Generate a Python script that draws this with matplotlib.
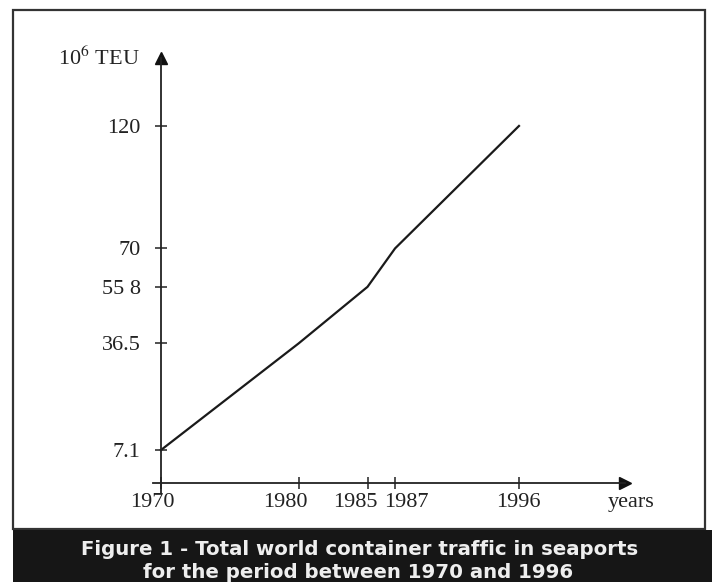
import numpy as np
import matplotlib
matplotlib.use('Agg')
import matplotlib.pyplot as plt
import matplotlib.transforms as mtransforms
from matplotlib.patches import Rectangle

# data
years = [1970, 1980, 1985, 1987, 1996]
teu = [7.1, 36.5, 55.8, 70, 120]
y_ticks = [7.1, 36.5, 55.8, 70, 120]
y_labels = ['7.1', '36.5', '55 8', '70', '120']
x_labels = ['1970', '1980', '1985', '1987', '1996']

caption_1 = 'Figure 1 - Total world container traffic in seaports'
caption_2 = 'for the period between 1970 and 1996'

# the hand-drawn y axis is compressed towards the top, close to a v**0.75 scale
PW = 0.75


def fwd(v):
    return np.sign(v) * np.abs(v) ** PW


def inv(v):
    return np.sign(v) * np.abs(v) ** (1 / PW)


W, H = 712, 582
fig = plt.figure(figsize=(W / 100, H / 100), dpi=100)
fig.patch.set_facecolor('white')

serif = 'Liberation Serif'

# outer frame and dark caption band (pixel layout -> figure fraction)
fig.add_artist(Rectangle((13 / W, (H - 529) / H), 692 / W, 519 / H,
                         transform=fig.transFigure, fill=False,
                         edgecolor='#333333', linewidth=1.6))
fig.add_artist(Rectangle((13 / W, 0), (W - 13) / W, (H - 530) / H,
                         transform=fig.transFigure, facecolor='#161616',
                         edgecolor='none'))
fig.text(360 / W, (H - 555) / H, caption_1, color='#eeeeee',
         family='DejaVu Sans', weight='bold', fontsize=14.2,
         ha='center', va='baseline')
fig.text(358 / W, (H - 578) / H, caption_2, color='#eeeeee',
         family='DejaVu Sans', weight='bold', fontsize=14.2,
         ha='center', va='baseline')

ax = fig.add_axes([153 / W, (H - 493) / H, 472 / W, 435 / H])
ax.set_facecolor('none')
ax.set_yscale('function', functions=(fwd, inv))
ax.set_xlim(1969.42, 2003.70)
ax.set_ylim(0.0572, 150.4)

ax.plot(years, teu, color='#1a1a1a', linewidth=1.6)

for s in ['top', 'right']:
    ax.spines[s].set_visible(False)
ax.spines['left'].set_position(('data', 1970))
ax.spines['bottom'].set_position(('data', 1.137))
for s in ['left', 'bottom']:
    ax.spines[s].set_linewidth(1.3)
    ax.spines[s].set_color('#222222')

# arrow heads at the ends of both axes
ax.plot(1, 1.137, '>', color='#111111', markersize=9,
        transform=ax.get_yaxis_transform(), clip_on=False)
ax.plot(1970, 1, '^', color='#111111', markersize=9,
        transform=ax.get_xaxis_transform(), clip_on=False)

ax.set_yticks(y_ticks)
ax.set_yticklabels(y_labels)
ax.set_xticks(years)
ax.set_xticklabels(x_labels)
ax.tick_params(axis='y', direction='inout', length=9, width=1.1,
               pad=10, labelsize=16, colors='#222222')
ax.tick_params(axis='x', direction='inout', length=8, width=1.1,
               pad=3, labelsize=16, colors='#222222')
for lab in ax.get_xticklabels() + ax.get_yticklabels():
    lab.set_family(serif)
ax.minorticks_off()

# the year labels are nudged sideways in the original so 1985/1987 don't collide
nudge = {'1970': -9, '1980': -13, '1985': -12, '1987': 11, '1996': -1}
for lab in ax.get_xticklabels():
    dx = nudge.get(lab.get_text(), 0)
    lab.set_transform(lab.get_transform() +
                      mtransforms.ScaledTranslation(dx / 100, 0, fig.dpi_scale_trans))

fig.text(140 / W, (H - 58) / H, '10$^{6}$ TEU', family=serif, fontsize=16,
         ha='right', va='center', color='#222222',
         math_fontfamily='stix')
fig.text(608 / W, (H - 503) / H, 'years', family=serif, fontsize=16,
         ha='left', va='center', color='#222222')

fig.savefig('out.png', dpi=100)
